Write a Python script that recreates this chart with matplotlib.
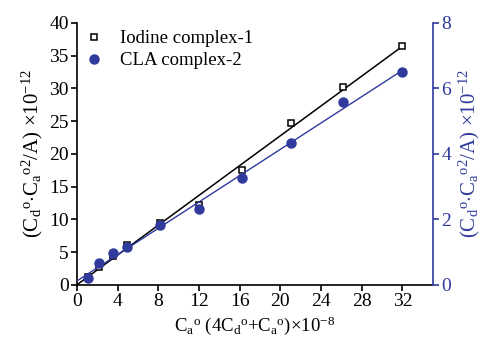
import numpy as np
import matplotlib
matplotlib.use("Agg")
import matplotlib.pyplot as plt

plt.rcParams['font.family'] = ['Liberation Serif', 'DejaVu Serif']
plt.rcParams['mathtext.fontset'] = 'custom'
plt.rcParams['mathtext.rm'] = 'Liberation Serif'
plt.rcParams['mathtext.it'] = 'Liberation Serif:italic'

# x values: Ca°(4Cd°+Ca°) x 1e-8
x = [1.1, 2.2, 3.55, 4.9, 8.2, 12.0, 16.2, 21.0, 26.2, 32.0]
# Iodine complex-1 (left axis)
iodine = [1.25, 2.8, 4.4, 6.05, 9.4, 12.2, 17.6, 24.7, 30.2, 36.4]
# CLA complex-2 (right axis)
cla = [0.2, 0.66, 0.98, 1.15, 1.82, 2.32, 3.26, 4.32, 5.58, 6.5]

xticks = [0, 4, 8, 12, 16, 20, 24, 28, 32]
left_ticks = [0, 5, 10, 15, 20, 25, 30, 35, 40]
right_ticks = [0, 2, 4, 6, 8]

blue = '#2f3a9c'
fs_tick = 14
fs_xlab = 13.5
fs_ylab = 15
fs_leg = 13.5

fig = plt.figure(figsize=(4.81, 3.40), dpi=100)
ax = fig.add_axes([0.160, 0.162, 0.740, 0.771])
ax2 = ax.twinx()

xs = np.array(x)
xfit = np.array([0, 32])
k1 = np.polyfit(xs, iodine, 1)
k2 = np.polyfit(xs, cla, 1)

ax.plot(xfit, np.polyval(k1, xfit), color='black', lw=1.1, zorder=2)
ax.plot(x, iodine, linestyle='none', marker='s', ms=5, mfc='white', mec='black',
        mew=1.1, label='Iodine complex-1', zorder=3)
ax2.plot(xfit, np.polyval(k2, xfit), color=blue, lw=1.0, zorder=2)
ax2.plot(x, cla, linestyle='none', marker='o', ms=6.5, color=blue,
         label='CLA complex-2', zorder=3)

ax.set_xlim(0, 35)
ax.set_ylim(0, 40)
ax2.set_ylim(0, 8)
ax.set_xticks(xticks)
ax.set_yticks(left_ticks)
ax2.set_yticks(right_ticks)

for a in (ax, ax2):
    a.spines['top'].set_visible(False)
ax.spines['right'].set_visible(False)
ax2.spines['left'].set_visible(False)
ax2.spines['bottom'].set_visible(False)
ax2.spines['right'].set_color(blue)
ax2.spines['right'].set_linewidth(1.2)
ax.spines['left'].set_linewidth(1.2)
ax.spines['bottom'].set_linewidth(1.2)

ax.tick_params(direction='out', length=4, width=1.2, labelsize=fs_tick, pad=2)
ax2.tick_params(direction='out', length=4, width=1.2, labelsize=fs_tick, pad=2,
                colors=blue)

ax.set_xlabel(r'$\mathrm{C_a}^{\mathrm{o}}$ $\mathrm{(4C_d}^{\mathrm{o}}\mathrm{+C_a}^{\mathrm{o}}\mathrm{)}$$\times$$\mathrm{10}^{-8}$',
              fontsize=fs_xlab, labelpad=3)
ylab = r'$\mathrm{(C_d}^{\mathrm{o}}\mathrm{\cdot C_a}^{\mathrm{o2}}\mathrm{/A)}$ $\times\mathrm{10}^{-12}$'
ax.set_ylabel(ylab, fontsize=fs_ylab, labelpad=3)
ax2.set_ylabel(ylab, fontsize=fs_ylab, color=blue, labelpad=4)

h1, l1 = ax.get_legend_handles_labels()
h2, l2 = ax2.get_legend_handles_labels()
ax.legend(h1 + h2, l1 + l2, loc='upper left', frameon=False, fontsize=fs_leg,
          handlelength=1.0, handletextpad=0.9, borderaxespad=0.0,
          bbox_to_anchor=(0.0, 1.0), labelspacing=0.25)

fig.savefig('out.png', dpi=100)
